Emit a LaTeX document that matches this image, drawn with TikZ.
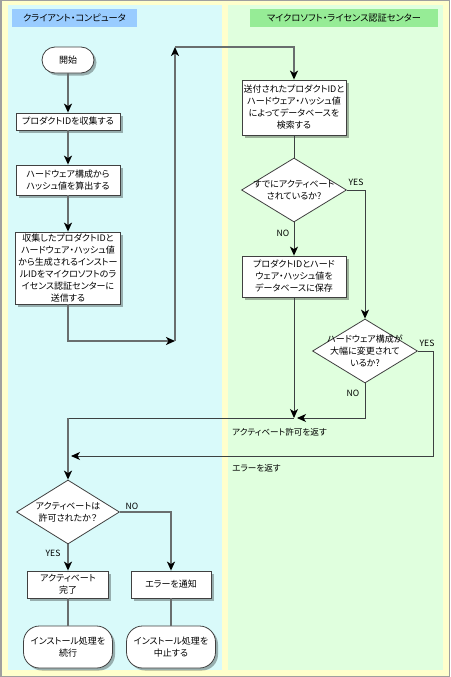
\documentclass[tikz,border=0pt]{standalone}
\usepackage{fontspec}
\setmainfont{Noto Sans CJK JP}[RawFeature=+palt]
\usetikzlibrary{shapes.geometric,arrows.meta,shadows}
\definecolor{bgyellow}{RGB}{255,255,204}
\definecolor{leftbg}{RGB}{217,250,250}
\definecolor{rightbg}{RGB}{224,255,222}
\definecolor{ltitle}{RGB}{153,204,255}
\definecolor{rtitle}{RGB}{150,236,150}
\definecolor{linegray}{RGB}{105,110,110}
\definecolor{linedark}{RGB}{60,65,65}
\newcommand\fs{\fontsize{9}{12}\selectfont}
\newcommand\fl{\fontsize{8.6}{10}\selectfont}
\begin{document}
\begin{tikzpicture}[x=1pt,y=-1pt,
  shapebox/.style={draw=black!75, fill=white, line width=0.8pt, inner sep=0pt, align=center, font=\fs,
    drop shadow={shadow xshift=2.5pt, shadow yshift=-2.5pt, opacity=0.3, fill=black}},
  termbox/.style={shapebox},
  diabox/.style={diamond, draw=black!75, fill=white, line width=0.8pt, inner sep=0pt},
  dtext/.style={align=center, font=\fs, inner sep=0pt},
  flowA/.style={draw=linegray, line width=1.8pt, -{Stealth[length=9pt,width=8pt,inset=2.5pt,color=black]}},
  lineA/.style={draw=linegray, line width=1.8pt},
  flowB/.style={draw=linedark, line width=1pt, -{Stealth[length=9pt,width=8pt,inset=2.5pt,color=black]}},
  lineB/.style={draw=linedark, line width=1pt},
  lbl/.style={font=\fl, inner sep=0pt},
  titlebox/.style={inner sep=0pt, font=\fontsize{9.2}{11}\selectfont, minimum height=18pt}
]
\useasboundingbox (0,0) rectangle (450,677);
% background
\fill[bgyellow] (0,0) rectangle (450,677);
\draw[gray!75, line width=1.5pt] (0.75,0.75) rectangle (449.25,676.25);
\fill[leftbg] (8,5) rectangle (222,670);
\fill[rightbg] (228,5) rectangle (443,670);
% titles
\node[titlebox, fill=ltitle, minimum width=125pt] (lt) at (74.5,18) {クライアント・コンピュータ};
\node[titlebox, fill=rtitle, minimum width=188pt] (rt) at (344,18) {マイクロソフト・ライセンス認証センター};
% left column nodes
\node[termbox, rounded corners=13pt, minimum width=52pt, minimum height=26pt] (start) at (68,60) {開始};
\node[shapebox, minimum width=104pt, minimum height=17pt] (b1) at (68,121.5) {プロダクトIDを収集する};
\node[shapebox, minimum width=104pt, minimum height=30pt] (b2) at (68,180) {ハードウェア構成から\\ハッシュ値を算出する};
\node[shapebox, minimum width=105pt, minimum height=72pt] (b3) at (68,268) {収集したプロダクトIDと\\ハードウェア・ハッシュ値\\から生成されるインストー\\ルIDをマイクロソフトのラ\\イセンス認証センターに\\送信する};
% right column nodes
\node[shapebox, minimum width=104pt, minimum height=55pt] (r1) at (294,107.5) {送付されたプロダクトIDと\\ハードウェア・ハッシュ値\\によってデータベースを\\検索する};
\node[diabox, minimum width=105pt, minimum height=64pt] (d1) at (294,190) {};
\node[dtext] at (d1) {すでにアクティベート\\されているか?};
\node[shapebox, minimum width=104pt, minimum height=41pt] (r2) at (294,276.5) {プロダクトIDとハード\\ウェア・ハッシュ値を\\データベースに保存};
\node[diabox, minimum width=105pt, minimum height=64pt] (d2) at (365,351) {};
\node[dtext] at (d2) {ハードウェア構成が\\大幅に変更されて\\いるか?};
% bottom nodes
\node[diabox, minimum width=103pt, minimum height=64pt] (d3) at (68,512) {};
\node[dtext] at (d3) {アクティベートは\\許可されたか？};
\node[shapebox, minimum width=81pt, minimum height=27pt] (a1) at (68,584.5) {アクティベート\\完了};
\node[shapebox, minimum width=80pt, minimum height=27pt] (e1) at (171,584.5) {エラーを通知};
\node[termbox, rounded corners=16pt, minimum width=89pt, minimum height=42pt] (t1) at (68,647) {インストール処理を\\続行};
\node[termbox, rounded corners=16pt, minimum width=89pt, minimum height=42pt] (t2) at (171,647) {インストール処理を\\中止する};
% helper coordinates
\coordinate (c1) at (175,341);
\coordinate (c2) at (175,47);
\coordinate (m1) at (294,418);
\coordinate (m1e) at (297,418);
\coordinate (j1) at (68,418);
\coordinate (c3) at (433,456);
\coordinate (m2) at (71,456);
% connectors
\draw[flowA] (start) -- (b1);
\draw[flowA] (b1) -- (b2);
\draw[flowA] (b2) -- (b3);
\draw[flowA] (b3.south) |- (c1);
\draw[flowA] (c1) -- (c2);
\draw[flowA] (c2) -| (r1.north);
\draw[lineB] (r1.south) -- (d1.north);
\draw[flowB] (d1.east) -| (d2.north);
\draw[flowB] (d1.south) -- (r2.north);
\draw[flowB] (r2.south) -- (m1);
\draw[flowB] (d2.south) |- (m1e);
\draw[lineB] (m1) -- (j1);
\draw[flowA] (j1) -- (d3.north);
\draw[flowB] (d2.east) -| (c3) -- (m2);
\draw[flowA] (d3.south) -- (a1.north);
\draw[flowA] (d3.east) -| (e1.north);
\draw[lineA] (a1.south) -- (t1.north);
\draw[lineA] (e1.south) -- (t2.north);
% labels
\node[lbl] (y1) at (356,182) {YES};
\node[lbl] (n1) at (283,233) {NO};
\node[lbl] (y2) at (427,343) {YES};
\node[lbl] (n2) at (353,393) {NO};
\node[lbl] (n3) at (132,506) {NO};
\node[lbl] (y3) at (53,553) {YES};
\node[lbl, anchor=west] (l1) at (232,432) {アクティベート許可を返す};
\node[lbl, anchor=west] (l2) at (232,468) {エラーを返す};
\end{tikzpicture}
\end{document}
